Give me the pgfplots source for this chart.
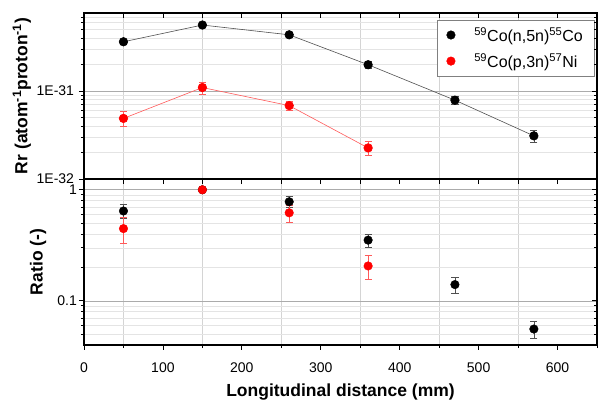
\documentclass[border=0pt]{standalone}
\usepackage{fontspec}
\setmainfont{Liberation Sans}
\usepackage{pgfplots}
\pgfplotsset{compat=1.18}

\definecolor{gridmaj}{HTML}{ABABAB}
\definecolor{gridmin}{HTML}{E4E4E4}
\definecolor{vgrid}{HTML}{D4D4D4}
\definecolor{blkline}{HTML}{505050}
\definecolor{redline}{HTML}{FF5A5A}

\begin{document}
\begin{tikzpicture}
% upper panel: reaction rates
\begin{axis}[name=top, at={(0,0)}, anchor=south west,
  scale only axis, width=513pt, height=166pt,
  xmin=0, xmax=650, ymode=log, ymin=1e-32, ymax=7.75e-31,
  axis line style={line width=1.3pt},
  tick style={black, line width=0.8pt},
  major tick length=5pt, minor tick length=3pt,
  tick align=outside, xtick pos=left, ytick pos=left,
  ticklabel style={font=\fontsize{14}{16}\selectfont, inner sep=0.5pt},
  yticklabel style={xshift=-4.3pt},
  label style={font=\fontsize{17.5}{21}\selectfont\bfseries},
  xtick={0,100,...,600}, xticklabels={},
  minor xtick={50,150,...,650},
  xminorgrids, ymajorgrids, yminorgrids,
  minor x grid style={vgrid, line width=0.6pt},
  major y grid style={gridmaj, line width=0.6pt},
  minor y grid style={gridmin, line width=0.6pt},
  ytick={1e-32,1e-31}, yticklabels={1E-32,1E-31},
  minor ytick={2e-32,3e-32,4e-32,5e-32,6e-32,7e-32,8e-32,9e-32,2e-31,3e-31,4e-31,5e-31,6e-31,7e-31},
  ylabel={Rr (atom\textsuperscript{-1}proton\textsuperscript{-1})},
  ylabel style={at={(axis description cs:-0.121,0.5)}, anchor=center},
  legend style={at={(0.689,0.958)}, anchor=north west, draw=gray, fill=white,
    font=\fontsize{16}{19}\selectfont, inner xsep=9pt, inner ysep=5pt, row sep=6.5pt,
    /tikz/every odd column/.append style={column sep=17pt}},
  legend cell align=left,
]
\addlegendimage{only marks, mark=*, mark size=4.3pt, black}
\addlegendentry{\textsuperscript{59}Co(n,5n)\textsuperscript{55}Co}
\addlegendimage{only marks, mark=*, mark size=4.3pt, red}
\addlegendentry{\textsuperscript{59}Co(p,3n)\textsuperscript{57}Ni}
\addplot [forget plot, line width=0.6pt, color=blkline, mark=*, mark size=4.3pt,
  mark options={fill=black, draw=black},
  error bars/.cd, y dir=both, y explicit,
  error bar style={blkline, line width=0.6pt},
  error mark options={rotate=90, mark size=3.6pt, blkline, line width=0.6pt}]
  table [x=x, y=y, y error=e] {
x y e
50 3.65e-31 0.25e-31
150 5.66e-31 0.30e-31
260 4.38e-31 0.25e-31
360 2.00e-31 0.20e-31
470 7.90e-32 0.90e-32
570 3.10e-32 0.50e-32
};
\addplot [forget plot, line width=0.6pt, color=redline, mark=*, mark size=4.3pt,
  mark options={fill=red, draw=red},
  error bars/.cd, y dir=both, y explicit,
  error bar style={redline, line width=0.6pt},
  error mark options={rotate=90, mark size=3.6pt, redline, line width=0.6pt}]
  table [x=x, y=y, y error=e] {
x y e
50 4.90e-32 0.95e-32
150 1.10e-31 0.17e-31
260 6.85e-32 0.85e-32
360 2.26e-32 0.40e-32
};
\end{axis}
% inward ticks on top and right of upper panel
\begin{axis}[at={(0,0)}, anchor=south west,
  scale only axis, width=513pt, height=166pt,
  xmin=0, xmax=650, ymode=log, ymin=1e-32, ymax=7.75e-31,
  axis line style={line width=1.3pt},
  tick style={black, line width=0.8pt},
  major tick length=5pt, minor tick length=3pt,
  tick align=inside, xtick pos=right, ytick pos=right,
  xtick={0,50,...,650}, xticklabels={},
  ytick={1e-32,1e-31}, yticklabels={},
  minor ytick={2e-32,3e-32,4e-32,5e-32,6e-32,7e-32,8e-32,9e-32,2e-31,3e-31,4e-31,5e-31,6e-31,7e-31},
]
\end{axis}

% lower panel: ratios
\begin{axis}[name=bot, at={(0,0)}, anchor=north west,
  scale only axis, width=513pt, height=166pt,
  xmin=0, xmax=650, ymode=log, ymin=0.04, ymax=1.25,
  axis line style={line width=1.3pt},
  tick style={black, line width=0.8pt},
  major tick length=5pt, minor tick length=3pt,
  tick align=outside, xtick pos=left, ytick pos=left,
  ticklabel style={font=\fontsize{14}{16}\selectfont, inner sep=0.5pt},
  xticklabel style={yshift=-12.5pt},
  yticklabel style={xshift=-1.5pt},
  label style={font=\fontsize{17.5}{21}\selectfont\bfseries},
  xtick={0,100,...,600}, xticklabels={0,100,200,300,400,500,600},
  minor xtick={50,150,...,650},
  xminorgrids, ymajorgrids, yminorgrids,
  minor x grid style={vgrid, line width=0.6pt},
  major y grid style={gridmaj, line width=0.6pt},
  minor y grid style={gridmin, line width=0.6pt},
  ytick={0.1,1}, yticklabels={0.1,1},
  minor ytick={0.05,0.06,0.07,0.08,0.09,0.2,0.3,0.4,0.5,0.6,0.7,0.8,0.9},
  ylabel={Ratio (-)},
  ylabel style={at={(axis description cs:-0.0897,0.5)}, anchor=center},
  xlabel={Longitudinal distance (mm)},
  xlabel style={at={(axis description cs:0.5,-0.282)}, anchor=center},
]
\addplot [only marks, color=blkline, mark=*, mark size=4.3pt,
  mark options={fill=black, draw=black},
  error bars/.cd, y dir=both, y explicit,
  error bar style={blkline, line width=0.6pt},
  error mark options={rotate=90, mark size=3.6pt, blkline, line width=0.6pt}]
  table [x=x, y=y, y error=e] {
x y e
50 0.644 0.09
150 1.0 0
260 0.78 0.09
360 0.352 0.048
470 0.14 0.022
570 0.0557 0.01
};
\addplot [only marks, color=redline, mark=*, mark size=4.3pt,
  mark options={fill=red, draw=red},
  error bars/.cd, y dir=both, y explicit,
  error bar style={redline, line width=0.6pt},
  error mark options={rotate=90, mark size=3.6pt, redline, line width=0.6pt}]
  table [x=x, y=y, y error=e] {
x y e
50 0.447 0.115
150 1.0 0
260 0.62 0.11
360 0.206 0.05
};
\end{axis}
% inward ticks on top and right of lower panel
\begin{axis}[at={(0,0)}, anchor=north west,
  scale only axis, width=513pt, height=166pt,
  xmin=0, xmax=650, ymode=log, ymin=0.04, ymax=1.25,
  axis line style={line width=1.3pt},
  tick style={black, line width=0.8pt},
  major tick length=5pt, minor tick length=3pt,
  tick align=inside, xtick pos=right, ytick pos=right,
  xtick={0,50,...,650}, xticklabels={},
  ytick={0.1,1}, yticklabels={},
  minor ytick={0.05,0.06,0.07,0.08,0.09,0.2,0.3,0.4,0.5,0.6,0.7,0.8,0.9},
]
\end{axis}
\pgfresetboundingbox
\path (-84pt,-221pt) rectangle (514pt,179pt);
\end{tikzpicture}
\end{document}
